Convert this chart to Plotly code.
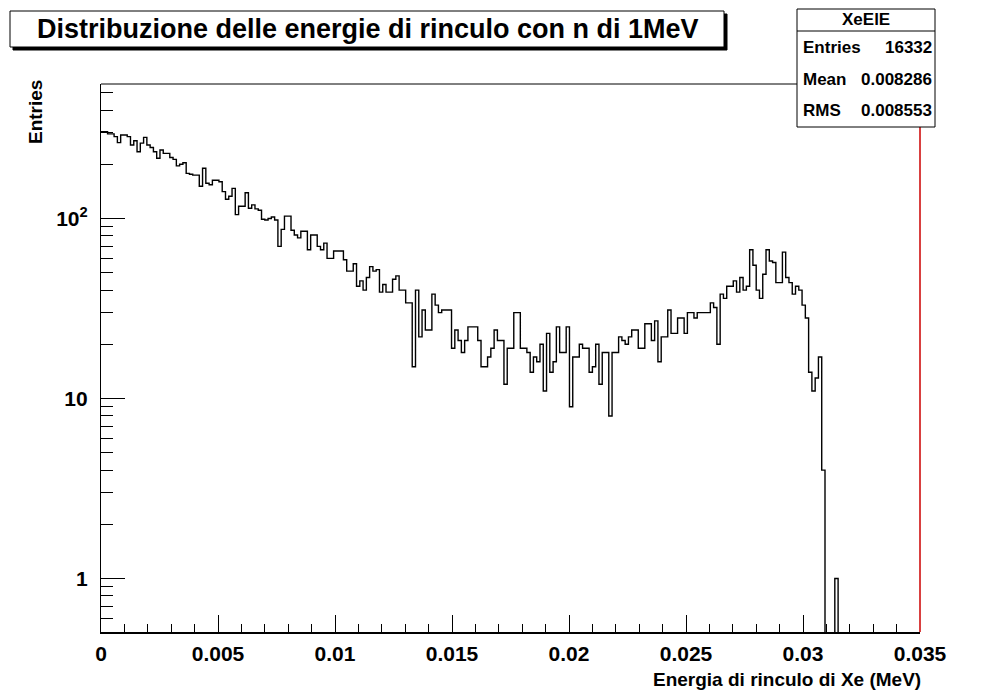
import numpy as np
import plotly.graph_objects as go

# Histogram definition (ROOT TH1: 250 bins in [0, 0.035])
nbins = 250
xmin, xmax = 0.0, 0.035

counts = [
    303, 303, 295, 295, 285, 264, 291, 291, 285, 256, 270, 235, 262, 282, 256, 248, 235, 216, 240, 230,
    230, 218, 213, 196, 200, 204, 178, 176, 174, 174, 151, 190, 157, 154, 163, 163, 160, 141,
    128, 133, 147, 105, 117, 117, 139, 114, 119, 113, 111, 99, 98, 100, 102, 98, 70, 87, 103, 103,
    86, 81, 78, 85, 85, 67, 81, 81, 70, 67, 73, 60, 60, 66, 66, 66, 59, 51,
    51, 56, 42, 45, 40, 47, 54, 51, 52, 39, 43, 39, 39, 46, 48, 40, 40, 34, 34, 15,
    40, 22, 31, 24, 24, 38, 33, 30, 31, 31, 31, 19, 24, 21, 18, 21, 25, 25,
    25, 21, 15, 15, 17, 19, 24, 21, 21, 12, 19, 19, 30, 30, 19, 19, 18, 14, 17, 16,
    20, 11, 23, 14, 16, 25, 18, 18, 25, 9, 17, 17, 20, 19, 19, 14, 15, 20,
    12, 18, 18, 8, 18, 18, 22, 21, 20, 22, 24, 24, 19, 19, 26, 26, 21, 27, 16, 22,
    22, 31, 23, 23, 28, 28, 23, 30, 30, 28, 30,
    30, 30, 30, 34, 32, 20, 38, 36, 42, 42, 45, 39, 47, 40, 42, 67, 55, 40, 36, 49,
    67, 58, 57, 44, 44, 65, 47, 44, 38, 42, 40, 33, 28, 14, 11, 13, 17, 4, 0, 0, 0, 1,
]
counts = counts + [0] * (nbins - len(counts))

x_tick_vals = [0, 0.005, 0.01, 0.015, 0.02, 0.025, 0.03, 0.035]
x_tick_text = ["0", "0.005", "0.01", "0.015", "0.02", "0.025", "0.03", "0.035"]
y_tick_vals = [1, 10, 100]
y_tick_text = ["1", "10", "10<sup>2</sup>"]

title_text = "Distribuzione delle energie di rinculo con n di 1MeV"
x_title = "Energia di rinculo di Xe (MeV)"
y_title = "Entries"
stats_name = "XeElE"
stats_rows = [("Entries", "16332"), ("Mean", "0.008286"), ("RMS", "0.008553")]

# ---------------------------------------------------------------
W, H = 997, 695
L, R, T, B = 101, 920, 84, 632
FONT = "Liberation Sans"

def px(x):
    return (x - L) / (R - L)

def py(y):
    return (B - y) / (B - T)

edges = np.linspace(xmin, xmax, nbins + 1)
ystep = [c if c > 0 else 1e-3 for c in counts] + [counts[-1] if counts[-1] > 0 else 1e-3]

fig = go.Figure()
fig.add_trace(go.Scatter(
    x=edges, y=ystep, mode="lines", line=dict(shape="hv", color="black", width=1.4),
    hoverinfo="skip", showlegend=False,
))

minor_x = [round(v, 4) for v in np.arange(0.001, 0.035, 0.001) if round(v * 1000) % 5 != 0]
minor_y = [0.6, 0.7, 0.8, 0.9] + [k for k in range(2, 10)] + [k * 10 for k in range(2, 10)] + [200, 300, 400, 500]

fig.update_layout(
    width=W, height=H,
    margin=dict(l=L, r=W - R, t=T, b=H - B),
    paper_bgcolor="white", plot_bgcolor="white",
    font=dict(family=FONT, color="black"),
    showlegend=False,
    xaxis=dict(
        range=[xmin, xmax], tickvals=x_tick_vals, ticktext=x_tick_text,
        ticks="inside", ticklen=17, tickwidth=1, tickcolor="black",
        showline=True, linewidth=2, linecolor="black", mirror=False,
        showgrid=False, zeroline=False,
        tickfont=dict(size=21, family=FONT, weight="bold"),
        ticklabelstandoff=2,
        minor=dict(ticks="inside", ticklen=8, tickwidth=1, tickcolor="black", tickvals=minor_x, showgrid=False),
    ),
    yaxis=dict(
        type="log", range=[-0.297, 2.747], tickvals=y_tick_vals, ticktext=y_tick_text,
        ticks="inside", ticklen=24, tickwidth=1, tickcolor="black",
        showline=True, linewidth=1.2, linecolor="black", mirror=False,
        showgrid=False, zeroline=False,
        tickfont=dict(size=21, family=FONT, weight="bold"),
        ticklabelstandoff=8,
        minor=dict(ticks="inside", ticklen=12, tickwidth=1, tickcolor="black", tickvals=minor_y, showgrid=False),
    ),
)

shapes = []
# top frame line (up to stats box)
shapes.append(dict(type="line", xref="paper", yref="paper", x0=0, x1=px(797), y0=1, y1=1,
                   line=dict(color="black", width=1)))
# right frame line (red)
shapes.append(dict(type="line", xref="paper", yref="paper", x0=1, x1=1, y0=0, y1=py(127),
                   line=dict(color="#cc0000", width=1.5)))
# title box shadow + box
shapes.append(dict(type="rect", xref="paper", yref="paper", x0=px(13), x1=px(727), y0=py(50), y1=py(14),
                   line=dict(color="black", width=1), fillcolor="black", layer="above"))
shapes.append(dict(type="rect", xref="paper", yref="paper", x0=px(10), x1=px(724), y0=py(47), y1=py(11),
                   line=dict(color="black", width=1), fillcolor="white", layer="above"))
# stats box
shapes.append(dict(type="rect", xref="paper", yref="paper", x0=px(797), x1=px(935), y0=py(127), y1=py(9),
                   line=dict(color="black", width=1), fillcolor="white", layer="above"))
shapes.append(dict(type="line", xref="paper", yref="paper", x0=px(797), x1=px(935), y0=py(31), y1=py(31),
                   line=dict(color="black", width=1), layer="above"))
fig.update_layout(shapes=shapes)

ann = []
ann.append(dict(text=title_text, xref="paper", yref="paper", x=px(368), y=py(29),
                xanchor="center", yanchor="middle", showarrow=False,
                font=dict(size=27, family=FONT, weight="bold")))
ann.append(dict(text=x_title, xref="paper", yref="paper", x=px(923), y=py(679),
                xanchor="right", yanchor="middle", showarrow=False,
                font=dict(size=19, family=FONT, weight="bold")))
ann.append(dict(text=y_title, xref="paper", yref="paper", x=px(36), y=py(78),
                xanchor="center", yanchor="top", textangle=-90, showarrow=False,
                font=dict(size=19, family=FONT, weight="bold")))
ann.append(dict(text=stats_name, xref="paper", yref="paper", x=px(866), y=py(20),
                xanchor="center", yanchor="middle", showarrow=False,
                font=dict(size=17, family=FONT, weight="bold")))
row_y = [47, 79, 111]
for (lab, val), yy in zip(stats_rows, row_y):
    ann.append(dict(text=lab, xref="paper", yref="paper", x=px(801), y=py(yy),
                    xanchor="left", yanchor="middle", showarrow=False,
                    font=dict(size=17, family=FONT, weight="bold")))
    ann.append(dict(text=val, xref="paper", yref="paper", x=px(934), y=py(yy),
                    xanchor="right", yanchor="middle", showarrow=False,
                    font=dict(size=17, family=FONT, weight="bold")))
fig.update_layout(annotations=ann)

fig.write_html("out.html")
